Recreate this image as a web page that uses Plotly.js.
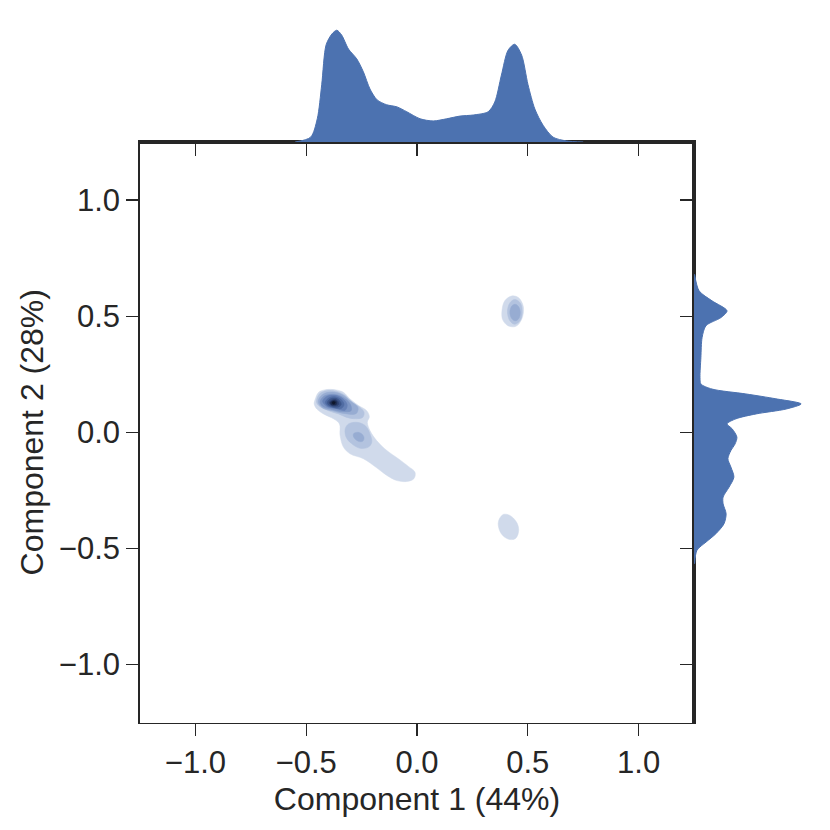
<!DOCTYPE html>
<html>
<head>
<meta charset="utf-8">
<script src="https://cdn.plot.ly/plotly-3.0.1.min.js"></script>
<style>
  html, body { margin: 0; padding: 0; background: #ffffff; }
  #chart { width: 830px; height: 830px; }
</style>
</head>
<body>
<div id="chart"></div>
<script>
// Joint KDE plot: PCA components 1 and 2

// Axis ticks
const tickVals = [-1, -0.5, 0, 0.5, 1];
const tickText = ['\u22121.0', '\u22120.5', '0.0', '0.5', '1.0'];

// Top marginal: density along component 1
const topX = [-0.55, -0.48, -0.45, -0.43, -0.41, -0.384, -0.362, -0.34, -0.309, -0.272, -0.242,
              -0.212, -0.18, -0.137, -0.09, -0.046, 0.014, 0.073, 0.134, 0.194, 0.254, 0.321,
              0.351, 0.381, 0.411, 0.441, 0.472, 0.501, 0.532, 0.569, 0.614, 0.674, 0.75];
const topDensity = [0.00, 0.09, 0.43, 1.06, 1.80, 2.00, 2.07, 1.98, 1.72, 1.54, 1.30,
                    0.98, 0.78, 0.69, 0.65, 0.56, 0.43, 0.39, 0.43, 0.48, 0.50, 0.56,
                    0.74, 1.24, 1.70, 1.81, 1.61, 1.06, 0.61, 0.31, 0.09, 0.02, 0.00];

// Right marginal: density along component 2
const rightY = [0.68, 0.609, 0.566, 0.523, 0.494, 0.459, 0.408, 0.322, 0.236, 0.208, 0.186,
                0.165, 0.144, 0.122, 0.100, 0.079, 0.058, 0.036, 0.015, -0.021, -0.05, -0.079,
                -0.114, -0.15, -0.193, -0.236, -0.279, -0.308, -0.351, -0.394, -0.437, -0.473,
                -0.508, -0.566];
const rightDensity = [0.02, 0.17, 0.60, 1.10, 0.90, 0.40, 0.27, 0.23, 0.20, 0.23, 0.60,
                      1.73, 2.73, 3.57, 3.07, 2.07, 1.40, 1.10, 1.27, 1.43, 1.37, 1.23,
                      1.13, 1.23, 1.33, 1.17, 0.97, 0.97, 1.07, 1.00, 0.73, 0.40,
                      0.10, 0.02];

// 2D KDE contour outlines, [component 1, component 2]
const mainL1 = [[-0.459, 0.143], [-0.444, 0.172], [-0.414, 0.183], [-0.369, 0.183], [-0.332, 0.172],
                [-0.302, 0.143], [-0.264, 0.115], [-0.227, 0.093], [-0.215, 0.067], [-0.224, 0.043],
                [-0.212, 0.007], [-0.182, -0.036], [-0.136, -0.079], [-0.084, -0.114], [-0.039, -0.147],
                [-0.009, -0.172], [-0.014, -0.200], [-0.046, -0.212], [-0.091, -0.208], [-0.136, -0.186],
                [-0.182, -0.153], [-0.242, -0.114], [-0.302, -0.093], [-0.332, -0.064], [-0.347, -0.014],
                [-0.350, 0.036], [-0.377, 0.058], [-0.422, 0.079], [-0.452, 0.100], [-0.464, 0.122]];
const mainL2a = [[-0.452, 0.143], [-0.437, 0.168], [-0.407, 0.179], [-0.362, 0.176], [-0.324, 0.158],
                 [-0.294, 0.129], [-0.257, 0.107], [-0.239, 0.086], [-0.245, 0.064], [-0.279, 0.058],
                 [-0.317, 0.064], [-0.354, 0.079], [-0.400, 0.093], [-0.437, 0.110], [-0.452, 0.125]];
const mainL2b = [[-0.309, 0.036], [-0.272, 0.043], [-0.234, 0.029], [-0.212, -0.007], [-0.204, -0.043],
                 [-0.219, -0.064], [-0.257, -0.069], [-0.294, -0.050], [-0.320, -0.021], [-0.324, 0.015]];
const mainL3a = [[-0.446, 0.132], [-0.428, 0.162], [-0.383, 0.173], [-0.338, 0.162], [-0.302, 0.136],
                 [-0.266, 0.106], [-0.275, 0.080], [-0.324, 0.080], [-0.383, 0.093], [-0.428, 0.106]];
const mainL3b = [[-0.287, -0.007], [-0.269, 0.000], [-0.249, -0.007], [-0.239, -0.024],
                 [-0.245, -0.039], [-0.264, -0.039], [-0.284, -0.024]];
const mainL4 = [[-0.437, 0.132], [-0.419, 0.156], [-0.378, 0.164], [-0.338, 0.153], [-0.302, 0.123],
                [-0.297, 0.093], [-0.338, 0.089], [-0.392, 0.100], [-0.428, 0.113]];
const mainL5 = [[-0.426, 0.132], [-0.410, 0.153], [-0.374, 0.160], [-0.338, 0.147], [-0.315, 0.119],
                [-0.324, 0.095], [-0.365, 0.102], [-0.405, 0.110]];
const mainL6 = [[-0.414, 0.130], [-0.396, 0.149], [-0.369, 0.153], [-0.342, 0.141], [-0.329, 0.119],
                [-0.342, 0.102], [-0.378, 0.106], [-0.405, 0.115]];
const mainL7 = [[-0.405, 0.128], [-0.392, 0.143], [-0.369, 0.147], [-0.349, 0.136], [-0.342, 0.119],
                [-0.356, 0.108], [-0.383, 0.110], [-0.399, 0.117]];
const mainL8 = [[-0.396, 0.128], [-0.385, 0.138], [-0.369, 0.141], [-0.356, 0.132], [-0.354, 0.119],
                [-0.367, 0.113], [-0.385, 0.115]];
const mainL9 = [[-0.390, 0.128], [-0.378, 0.136], [-0.365, 0.134], [-0.363, 0.121], [-0.376, 0.117],
                [-0.387, 0.119]];
const mainL10 = [[-0.383, 0.128], [-0.376, 0.132], [-0.369, 0.128], [-0.374, 0.121], [-0.381, 0.123]];
const upperL1 = [[0.383, 0.519], [0.396, 0.566], [0.428, 0.587], [0.459, 0.579], [0.480, 0.540],
                 [0.473, 0.488], [0.446, 0.456], [0.410, 0.459], [0.387, 0.484]];
const upperL2 = [[0.408, 0.519], [0.419, 0.557], [0.441, 0.572], [0.466, 0.557], [0.475, 0.519],
                 [0.466, 0.482], [0.441, 0.465], [0.419, 0.480]];
const upperL3 = [[0.419, 0.516], [0.428, 0.544], [0.444, 0.551], [0.459, 0.540], [0.466, 0.515],
                 [0.459, 0.489], [0.444, 0.480], [0.428, 0.489]];
const lowerL1 = [[0.369, -0.379], [0.389, -0.354], [0.419, -0.358], [0.449, -0.387], [0.459, -0.422],
                 [0.446, -0.456], [0.419, -0.462], [0.386, -0.444], [0.368, -0.408]];

// level index -> outline
const contourPolys = [
  [0, mainL1], [0, upperL1], [0, lowerL1],
  [1, mainL2a], [1, mainL2b], [1, upperL2],
  [2, mainL3a], [2, mainL3b], [2, upperL3],
  [3, mainL4], [4, mainL5], [5, mainL6], [6, mainL7], [7, mainL8], [8, mainL9], [9, mainL10]
];

const levelColors = ['#d0daeb', '#b3c3df', '#97acd2', '#7e97c5', '#6681b6',
                     '#506ca3', '#3d568a', '#2c4170', '#1c2b4d', '#0f172a'];
const blue = '#4c72b0';
const ink = '#262626';
const fontFamily = "'Liberation Sans', Arial, sans-serif";

const traces = [];

contourPolys.forEach(([lvl, pts]) => {
  const closed = pts.concat([pts[0]]);
  traces.push({
    x: closed.map(p => p[0]),
    y: closed.map(p => p[1]),
    xaxis: 'x', yaxis: 'y',
    mode: 'lines',
    fill: 'toself',
    fillcolor: levelColors[lvl],
    line: { color: levelColors[lvl], width: 0.5, shape: 'spline', smoothing: 1 },
    hoverinfo: 'skip',
    showlegend: false
  });
});

// top marginal
traces.push({
  x: topX, y: topDensity,
  xaxis: 'x2', yaxis: 'y2',
  mode: 'lines', fill: 'tozeroy',
  fillcolor: blue,
  line: { color: blue, width: 1, shape: 'spline', smoothing: 0.8 },
  hoverinfo: 'skip', showlegend: false
});

// right marginal
traces.push({
  x: rightDensity, y: rightY,
  xaxis: 'x3', yaxis: 'y3',
  mode: 'lines', fill: 'tozerox',
  fillcolor: blue,
  line: { color: blue, width: 1, shape: 'spline', smoothing: 0.8 },
  hoverinfo: 'skip', showlegend: false
});

const W = 830, H = 830;
const mainX = [140 / W, 694 / W];
const mainY = [(H - 722.5) / H, (H - 142) / H];

const tickStyle = {
  ticks: 'outside', ticklen: 12, tickwidth: 1.25, tickcolor: ink,
  showgrid: false, zeroline: false,
  tickvals: tickVals, ticktext: tickText
};

const layout = {
  width: W, height: H,
  margin: { l: 0, r: 0, t: 0, b: 0, pad: 0 },
  paper_bgcolor: '#ffffff',
  plot_bgcolor: '#ffffff',
  font: { family: fontFamily, color: ink },
  showlegend: false,
  xaxis: Object.assign({}, tickStyle, {
    domain: mainX, anchor: 'y', range: [-1.25, 1.25],
    showline: true, linecolor: ink, linewidth: 1.75, mirror: true,
    tickfont: { size: 31, family: fontFamily, color: ink },
    title: { text: 'Component 1 (44%)', standoff: 8,
             font: { size: 32, family: fontFamily, color: ink } }
  }),
  yaxis: Object.assign({}, tickStyle, {
    domain: mainY, anchor: 'x', range: [-1.25, 1.25],
    showline: true, linecolor: ink, linewidth: 1.75, mirror: true,
    tickfont: { size: 31, family: fontFamily, color: ink },
    title: { text: 'Component 2 (28%)', standoff: 6,
             font: { size: 32, family: fontFamily, color: ink } }
  }),
  xaxis2: Object.assign({}, tickStyle, {
    domain: mainX, anchor: 'y2', range: [-1.25, 1.25],
    showline: true, linecolor: ink, linewidth: 1.75,
    showticklabels: false
  }),
  yaxis2: {
    domain: [(H - 142) / H, (H - 26) / H], anchor: 'x2',
    range: [0, 2.148], visible: false
  },
  xaxis3: {
    domain: [694 / W, 805 / W], anchor: 'y3',
    range: [0, 3.7], visible: false
  },
  yaxis3: Object.assign({}, tickStyle, {
    domain: mainY, anchor: 'x3', range: [-1.25, 1.25],
    showline: true, linecolor: ink, linewidth: 1.75,
    showticklabels: false
  })
};

Plotly.newPlot('chart', traces, layout, { displayModeBar: false, staticPlot: true });
</script>
</body>
</html>
